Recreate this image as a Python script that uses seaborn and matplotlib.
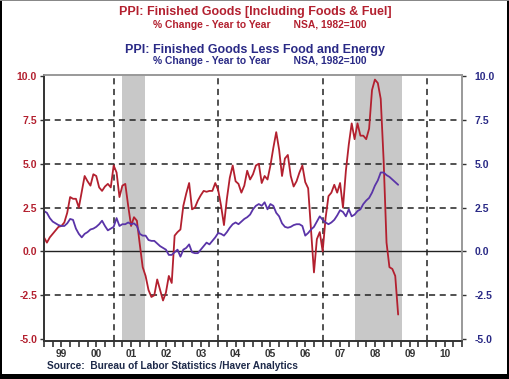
import numpy as np
import pandas as pd
import matplotlib.pyplot as plt
from matplotlib.patches import Rectangle
from matplotlib.ticker import FixedLocator, FixedFormatter, NullFormatter
import seaborn as sns

# monthly YoY % change, Jan 1999 .. Mar 2009
ppi_total = [0.8, 0.5, 0.8, 1.0, 1.2, 1.4, 1.45, 1.65, 2.2, 3.1, 3.0, 3.0,
             2.5, 3.4, 4.3, 4.0, 3.75, 4.4, 4.3, 3.65, 3.45, 3.7, 3.85, 3.65,
             4.9, 4.5, 3.1, 3.75, 3.85, 2.6, 1.45, 1.95, 1.75, 0.4, -0.9, -1.4,
             -2.2, -2.6, -2.5, -1.6, -2.2, -2.8, -2.35, -1.4, -1.8, 0.9, 1.1, 1.25,
             2.6, 3.3, 3.9, 2.4, 2.5, 2.9, 3.2, 3.45, 3.4, 3.45, 3.45, 3.9,
             3.5, 2.6, 1.5, 3.0, 4.2, 4.9, 4.0, 3.85, 3.35, 3.75, 4.6, 4.1,
             4.4, 4.9, 5.0, 3.9, 4.3, 4.1, 4.9, 5.9, 6.8, 5.8, 4.3, 5.3,
             5.5, 4.3, 3.7, 4.0, 4.5, 4.9, 3.95, 3.6, 1.2, -1.2, 0.7, 1.1,
             0.0, 1.9, 3.15, 3.35, 3.8, 3.35, 3.9, 2.5, 4.6, 6.1, 7.3, 6.4,
             7.3, 6.6, 6.6, 6.4, 7.0, 9.2, 9.8, 9.6, 8.7, 5.2, 0.5, -0.9,
             -1.0, -1.4, -3.6]

ppi_core = [2.3, 2.2, 1.9, 1.7, 1.6, 1.5, 1.45, 1.45, 1.6, 1.85, 1.8, 1.3,
            1.0, 0.8, 1.0, 1.1, 1.25, 1.3, 1.4, 1.55, 1.75, 1.45, 1.2, 1.3,
            1.4, 1.9, 1.45, 1.55, 1.55, 1.65, 1.55, 1.6, 1.45, 1.0, 0.9, 0.9,
            0.65, 0.6, 0.6, 0.45, 0.3, 0.2, 0.1, -0.2, -0.2, -0.05, 0.1, -0.3,
            0.1, 0.2, 0.4, -0.05, -0.1, -0.1, 0.1, 0.3, 0.5, 0.4, 0.6, 0.8,
            1.05, 1.0, 0.9, 1.1, 1.35, 1.55, 1.65, 1.55, 1.7, 1.85, 1.95, 2.1,
            2.4, 2.6, 2.7, 2.6, 2.8, 2.4, 2.7, 2.6, 2.2, 2.0, 1.6, 1.4,
            1.35, 1.4, 1.5, 1.55, 1.55, 1.45, 0.9, 1.05, 1.25, 1.4, 1.7, 2.0,
            1.8, 1.65, 1.55, 1.65, 1.8, 2.05, 2.35, 2.25, 2.0, 2.4, 2.0, 2.1,
            2.3, 2.4, 2.7, 2.9, 3.05, 3.35, 3.75, 4.05, 4.5, 4.5, 4.35, 4.25,
            4.1, 3.95, 3.8]

year_labels = ['99', '00', '01', '02', '03', '04', '05', '06', '07', '08', '09', '10']
recessions = [(2001.23, 2001.89), (2007.92, 2009.27)]
y_ticks = [-5.0, -2.5, 0.0, 2.5, 5.0, 7.5, 10.0]

dates = pd.date_range('1999-01-01', periods=len(ppi_total), freq='MS')
df = pd.DataFrame({'t': dates.year + (dates.month - 1) / 12,
                   'total': ppi_total, 'core': ppi_core})

RED = '#b3202f'
BLUE = '#5a34a8'
NAVY = '#2a2a86'

sns.set_style('white')
plt.rcParams['font.family'] = ['Liberation Sans', 'DejaVu Sans']

fig = plt.figure(figsize=(5.1, 3.79), dpi=100)
ax = fig.add_axes([44 / 510, 1 - 341 / 379, 418 / 510, 266 / 379])

for a, b in recessions:
    ax.axvspan(a, b, color='#c8c8c8', lw=0, zorder=0)

for yv in [-2.5, 2.5, 5.0, 7.5]:
    ax.axhline(yv, color='#222222', lw=1.1, ls=(0, (4, 3)), zorder=1)
for xv in [2001, 2004, 2007, 2010]:
    ax.axvline(xv, color='#222222', lw=1.1, ls=(0, (4, 3)), zorder=1)
ax.axhline(0, color='#222222', lw=1.0, zorder=1)

sns.lineplot(data=df, x='t', y='total', ax=ax, color=RED, lw=1.3, zorder=3)
sns.lineplot(data=df, x='t', y='core', ax=ax, color=BLUE, lw=1.3, zorder=3)

ax.set_xlim(1999, 2011)
ax.set_ylim(-5.11, 10.06)
ax.set_xlabel('')
ax.set_ylabel('')

# quarter ticks as major marks, year labels as unticked minor labels at mid-year
ax.xaxis.remove_overlapping_locs = False
ax.xaxis.set_major_locator(FixedLocator([1999 + q / 4 for q in range(49)]))
ax.xaxis.set_major_formatter(NullFormatter())
ax.xaxis.set_minor_locator(FixedLocator([1999.5 + i for i in range(len(year_labels))]))
ax.xaxis.set_minor_formatter(FixedFormatter(year_labels))
ax.tick_params(axis='x', which='major', length=4, width=1.2, color='#333333', direction='out', bottom=True)
ax.tick_params(axis='x', which='minor', length=0, pad=6, labelsize=7.3, labelcolor='#333333', bottom=True)

ax.set_yticks(y_ticks)
ax.set_yticklabels([f'{v:.1f}' for v in y_ticks])
ax.tick_params(axis='y', length=3, width=1, direction='out', left=True, color='#333333',
               labelsize=7.5, labelcolor=RED, pad=2)

ax2 = ax.twinx()
ax2.set_ylim(ax.get_ylim())
ax2.set_yticks(y_ticks)
ax2.set_yticklabels([f'{v:.1f}' for v in y_ticks])
ax2.tick_params(axis='y', length=3, width=1, direction='out', right=True, color='#333333',
                labelsize=7.5, labelcolor=NAVY, pad=6)

for lab in ax.get_yticklabels() + ax2.get_yticklabels() + ax.get_xticklabels(minor=True):
    lab.set_fontweight('bold')

for a in (ax, ax2):
    a.spines['left'].set_color('#333333')
    a.spines['bottom'].set_color('#333333')
    a.spines['top'].set_color('#999999')
    a.spines['right'].set_color('#999999')
    for s in a.spines.values():
        s.set_linewidth(1.2)

fig.text(0.5, 1 - 12 / 379, 'PPI: Finished Goods [Including Foods & Fuel]', color=RED,
         fontsize=9, fontweight='bold', ha='center', va='center')
fig.text(0.51, 1 - 24.5 / 379, '% Change - Year to Year        NSA, 1982=100', color=RED,
         fontsize=7.4, fontweight='bold', ha='center', va='center')
fig.text(0.5, 1 - 50 / 379, 'PPI: Finished Goods Less Food and Energy', color=NAVY,
         fontsize=9, fontweight='bold', ha='center', va='center')
fig.text(0.51, 1 - 61 / 379, '% Change - Year to Year        NSA, 1982=100', color=NAVY,
         fontsize=7.4, fontweight='bold', ha='center', va='center')
fig.text(47 / 510, 1 - 366 / 379, 'Source:  Bureau of Labor Statistics /Haver Analytics',
         color='#1e2a4a', fontsize=7.3, fontweight='bold', ha='left', va='center')

# image frame
fig.add_artist(Rectangle((0, 0), 2 / 510, 1, transform=fig.transFigure, color='black', lw=0))
fig.add_artist(Rectangle((0, 0), 1, 5 / 379, transform=fig.transFigure, color='black', lw=0))
fig.add_artist(Rectangle((1 - 3 / 510, 0), 3 / 510, 1, transform=fig.transFigure, color='black', lw=0))
fig.add_artist(Rectangle((0, 1 - 1 / 379), 1, 1 / 379, transform=fig.transFigure, color='#888888', lw=0))

fig.savefig('out.png', dpi=100)
